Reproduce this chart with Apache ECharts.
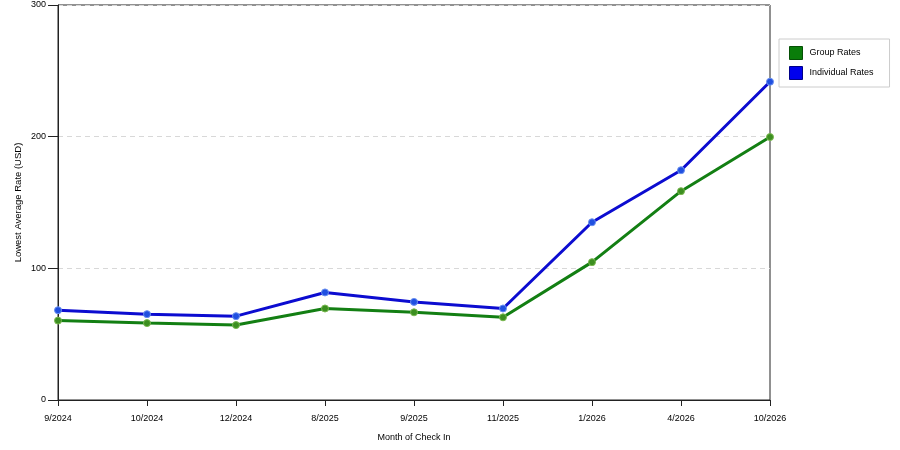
<!DOCTYPE html>
<html>
<head>
<meta charset="utf-8">
<script src="https://cdn.jsdelivr.net/npm/echarts@6/dist/echarts.min.js"></script>
<style>html,body{margin:0;padding:0;background:#fff}#c{width:900px;height:450px}</style>
</head>
<body>
<div id="c"></div>
<script>
const categories = ['9/2024','10/2024','12/2024','8/2025','9/2025','11/2025','1/2026','4/2026','10/2026'];
const groupRates = [60.3, 58.4, 56.9, 69.5, 66.6, 62.8, 104.7, 158.6, 199.7];
const individualRates = [68.2, 65.2, 63.7, 81.7, 74.5, 69.5, 135, 174.5, 241.7];
const yTicks = [0, 100, 200, 300];

const FONT = 'Liberation Sans';
const chart = echarts.init(document.getElementById('c'));
chart.setOption({
  animation: false,
  backgroundColor: '#fff',
  textStyle: { fontFamily: FONT },
  grid: { left: 58, right: 130, top: 5, bottom: 50, show: true, borderColor: '#222', borderWidth: 1 },
  legend: {
    orient: 'vertical', left: 779, top: 39,
    padding: [7, 16, 7, 10], itemGap: 6, itemWidth: 13, itemHeight: 13,
    borderColor: '#cccccc', borderWidth: 1,
    textStyle: { fontFamily: FONT, fontSize: 9, color: '#000', padding: [0, 0, 0, 2] },
    data: [
      { name: 'Group Rates', icon: 'rect', itemStyle: { color: '#0a7d0a', borderColor: '#055005', borderWidth: 1 } },
      { name: 'Individual Rates', icon: 'rect', itemStyle: { color: '#0000ee', borderColor: '#000088', borderWidth: 1 } }
    ]
  },
  xAxis: {
    type: 'category', data: categories, boundaryGap: false,
    name: 'Month of Check In', nameLocation: 'middle', nameGap: 33,
    nameTextStyle: { fontFamily: FONT, fontSize: 9, color: '#000' },
    axisLine: { lineStyle: { color: '#222', width: 1 } },
    axisTick: { alignWithLabel: true, length: 6, lineStyle: { color: '#222' } },
    axisLabel: { fontFamily: FONT, fontSize: 9, color: '#000', margin: 14 },
    splitLine: { show: false }
  },
  yAxis: {
    type: 'value', min: 0, max: 300, interval: 100,
    name: 'Lowest Average Rate (USD)', nameLocation: 'middle', nameGap: 35,
    nameMoveOverlap: false,
    nameTextStyle: { fontFamily: FONT, fontSize: 9.5, color: '#000' },
    axisLine: { show: true, lineStyle: { color: '#222', width: 1 } },
    axisTick: { show: true, length: 10, lineStyle: { color: '#222' } },
    axisLabel: { fontFamily: FONT, fontSize: 9, color: '#000', margin: 12,
      formatter: v => yTicks.includes(v) ? String(v) : '' },
    splitLine: { show: true, lineStyle: { color: '#d8d8d8', type: [5, 4], width: 1 } }
  },
  series: [
    {
      name: 'Group Rates', type: 'line', data: groupRates,
      symbol: 'circle', symbolSize: 7,
      lineStyle: { color: '#137f13', width: 3 },
      itemStyle: { color: '#3c8f20', borderColor: '#7ab850', borderWidth: 1 }
    },
    {
      name: 'Individual Rates', type: 'line', data: individualRates,
      symbol: 'circle', symbolSize: 7,
      lineStyle: { color: '#0c0cd0', width: 3 },
      itemStyle: { color: '#2050e0', borderColor: '#6a90f0', borderWidth: 1 }
    }
  ]
});
</script>
</body>
</html>
